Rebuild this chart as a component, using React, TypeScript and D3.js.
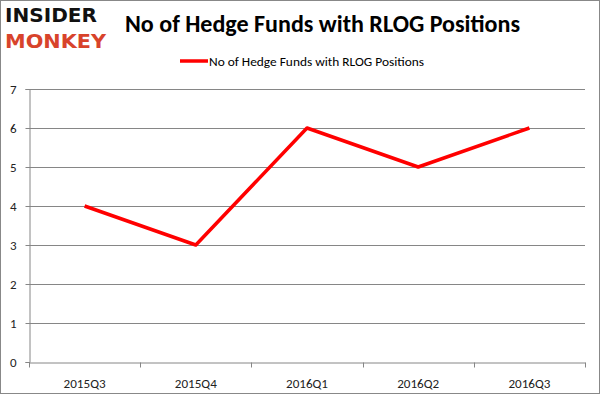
import React, { useEffect, useRef } from "react";
import * as d3 from "d3";

const quarters = ["2015Q3", "2015Q4", "2016Q1", "2016Q2", "2016Q3"];
const funds = [4, 3, 6, 5, 6];
const yTicks = [0, 1, 2, 3, 4, 5, 6, 7];
const seriesName = "No of Hedge Funds with RLOG Positions";

export default function App() {
  const ref = useRef<SVGSVGElement>(null);

  useEffect(() => {
    const W = 601, H = 395;
    const margin = { top: 89, right: 16, bottom: 33, left: 29 };
    const svg = d3.select(ref.current);
    svg.selectAll("*").remove();

    const font = "Carlito, Calibri, 'Liberation Sans', Arial, sans-serif";

    // outer frame
    svg.append("rect")
      .attr("x", 0.5).attr("y", 0.5)
      .attr("width", W - 2).attr("height", H - 2)
      .attr("fill", "#fff").attr("stroke", "#888");

    // logo
    svg.append("text")
      .attr("x", 5).attr("y", 22)
      .attr("font-family", "'DejaVu Sans', sans-serif")
      .attr("font-weight", "bold").attr("font-size", 20)
      .attr("textLength", 92).attr("lengthAdjust", "spacingAndGlyphs")
      .attr("fill", "#111").text("INSIDER");
    svg.append("text")
      .attr("x", 5).attr("y", 48)
      .attr("font-family", "'DejaVu Sans', sans-serif")
      .attr("font-weight", "bold").attr("font-size", 20)
      .attr("textLength", 101).attr("lengthAdjust", "spacingAndGlyphs")
      .attr("fill", "#d8432b").text("MONKEY");

    // title
    svg.append("text")
      .attr("x", 125).attr("y", 32)
      .attr("font-family", font).attr("font-weight", "bold").attr("font-size", 23.5)
      .attr("textLength", 395).attr("lengthAdjust", "spacingAndGlyphs")
      .attr("fill", "#000").text(seriesName);

    // legend
    svg.append("line")
      .attr("x1", 180).attr("x2", 208).attr("y1", 61).attr("y2", 61)
      .attr("stroke", "#ff0000").attr("stroke-width", 3.5);
    svg.append("text")
      .attr("x", 209).attr("y", 65.5)
      .attr("font-family", font).attr("font-size", 13)
      .attr("textLength", 215).attr("lengthAdjust", "spacingAndGlyphs")
      .attr("fill", "#000").text(seriesName);

    const x = d3.scaleBand()
      .domain(quarters)
      .range([margin.left, W - margin.right]);

    const y = d3.scaleLinear()
      .domain([0, 7])
      .range([H - margin.bottom, margin.top]);

    // gridlines
    svg.append("g")
      .selectAll("line")
      .data(yTicks.filter(d => d > 0))
      .join("line")
      .attr("x1", margin.left).attr("x2", W - margin.right)
      .attr("y1", d => Math.round(y(d)) + 0.5).attr("y2", d => Math.round(y(d)) + 0.5)
      .attr("stroke", "#868686");

    // y axis
    const yAxis = svg.append("g")
      .attr("transform", `translate(${margin.left + 0.5},0)`)
      .call(d3.axisLeft(y).tickValues(yTicks).tickSize(4).tickPadding(9).tickFormat(d3.format("d")));
    yAxis.select(".domain").attr("stroke", "#868686");
    yAxis.selectAll(".tick line").attr("stroke", "#868686");
    yAxis.selectAll(".tick text")
      .attr("font-family", font).attr("font-size", 13).attr("fill", "#222");

    // x axis
    const xAxis = svg.append("g")
      .attr("transform", `translate(0,${Math.round(y(0)) + 0.5})`)
      .call(d3.axisBottom(x).tickSize(0).tickPadding(17));
    xAxis.select(".domain").attr("stroke", "#868686");
    xAxis.selectAll(".tick text")
      .attr("font-family", font).attr("font-size", 12.5)
      .attr("textLength", 42).attr("lengthAdjust", "spacingAndGlyphs")
      .attr("fill", "#222");

    // x ticks at band boundaries
    const bounds = quarters.map(q => x(q) as number).concat([W - margin.right]);
    xAxis.selectAll(".bound")
      .data(bounds)
      .join("line")
      .attr("class", "bound")
      .attr("x1", d => Math.round(d) + 0.5).attr("x2", d => Math.round(d) + 0.5)
      .attr("y1", 0).attr("y2", 5)
      .attr("stroke", "#868686");

    // series line
    const line = d3.line<number>()
      .x((_, i) => (x(quarters[i]) as number) + x.bandwidth() / 2)
      .y(d => y(d));
    svg.append("path")
      .datum(funds)
      .attr("d", line)
      .attr("fill", "none")
      .attr("stroke", "#ff0000")
      .attr("stroke-width", 3.5)
      .attr("stroke-linejoin", "round");
  }, []);

  return (
    <svg ref={ref} width={601} height={395}
      style={{ position: "absolute", left: 0, top: 0, display: "block" }} />
  );
}
